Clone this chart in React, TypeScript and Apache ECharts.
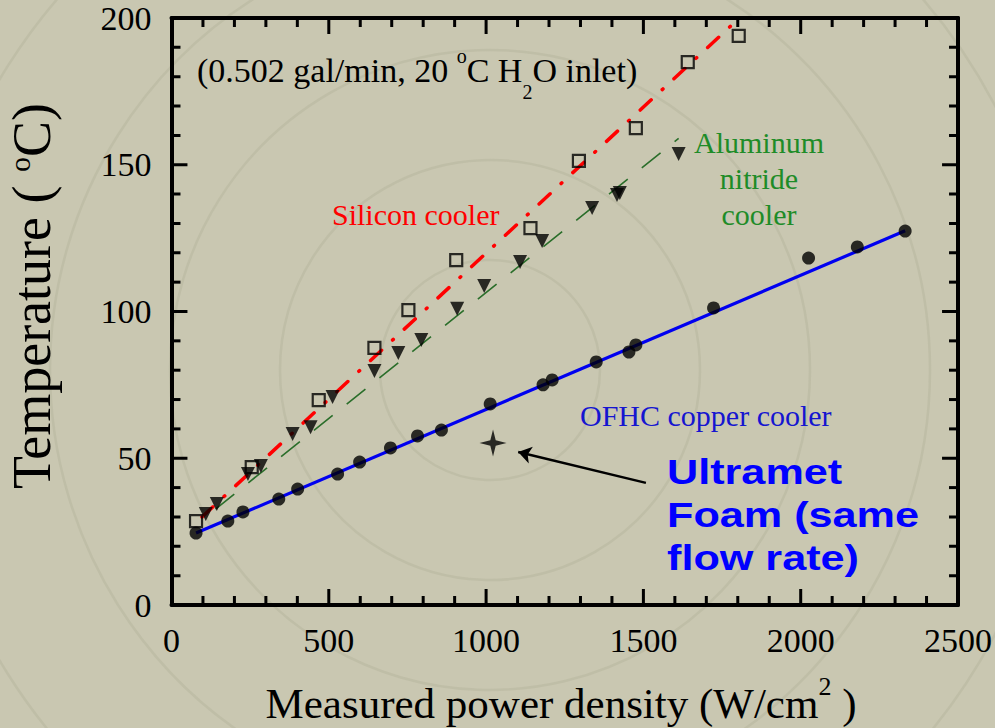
import React, { useEffect, useRef } from "react";
import * as echarts from "echarts";

// ---- data ----
const xTicks = [0, 500, 1000, 1500, 2000, 2500];
const yTicks = [0, 50, 100, 150, 200];
const xMinorStep = 100;
const yMinorStep = 10;

const copperX = [78, 179, 227, 341, 401, 528, 598, 696, 782, 858, 1013, 1181, 1210, 1350, 1454, 1476, 1723, 2025, 2180, 2332];
const copperY = [24.5, 28.6, 31.7, 36.1, 39.5, 44.6, 48.7, 53.5, 57.6, 59.6, 68.5, 75.0, 76.7, 82.8, 86.2, 88.6, 101.2, 118.2, 122.0, 127.4];

const siliconX = [78, 255, 468, 645, 753, 905, 1141, 1295, 1476, 1641, 1803];
const siliconY = [28.6, 47.0, 69.8, 87.6, 100.5, 117.5, 128.4, 151.3, 162.5, 185.0, 193.9];

const alnX = [109, 144, 243, 284, 385, 442, 512, 645, 721, 794, 908, 994, 1108, 1178, 1337, 1416, 1425, 1612];
const alnY = [31.0, 34.4, 44.6, 47.4, 58.3, 60.6, 70.9, 79.7, 85.9, 90.3, 100.9, 108.7, 116.9, 124.0, 135.3, 139.7, 140.4, 153.7];

// fitted lines (end points)
const copperFitX = [78, 2332];
const copperFitY = [24.5, 127.5];
const siliconFitX = [97, 1805];
const siliconFitY = [30, 200];
const alnFitX = [140, 1612];
const alnFitY = [32.7, 159];

// Ultramet foam point and arrow
const foamX = [1022];
const foamY = [55.2];
const arrowFrom = [1508, 41.6];
const arrowTo = [1102, 52.1];

const pairs = (xs: number[], ys: number[]) => xs.map((x, i) => [x, ys[i]]);

const SERIF = "'Liberation Serif', 'Times New Roman', serif";
const SANS = "'Liberation Sans', Arial, sans-serif";

const W = 995;
const H = 728;
const GRID = { left: 171.5, right: 34.5, top: 18, bottom: 123 };

function makeAxis(position: string, min: number, max: number, interval: number, showLabel: boolean, margin: number) {
  return {
    type: "value",
    position,
    min,
    max,
    interval,
    axisLine: { show: true, onZero: false, lineStyle: { color: "#000", width: 4 } },
    axisTick: { show: false },
    minorTick: { show: false },
    splitLine: { show: false },
    axisLabel: showLabel
      ? { show: true, color: "#000", fontFamily: SERIF, fontSize: 34, margin, formatter: (v: number) => String(v) }
      : { show: false },
  };
}

export default function App() {
  const ref = useRef<HTMLDivElement>(null);

  useEffect(() => {
    if (!ref.current) return;
    const chart = echarts.init(ref.current, undefined, { renderer: "svg" });

    const xMin = xTicks[0];
    const xMax = xTicks[xTicks.length - 1];
    const yMin = yTicks[0];
    const yMax = yTicks[yTicks.length - 1];
    const xMajor = xTicks[1] - xTicks[0];
    const yMajor = yTicks[1] - yTicks[0];

    // tick lengths in pixels, turned into axis units through the grid size
    const gridW = W - GRID.left - GRID.right;
    const gridH = H - GRID.top - GRID.bottom;
    const xPerPx = (xMax - xMin) / gridW;
    const yPerPx = (yMax - yMin) / gridH;
    const MAJ = 16;
    const MIN = 9;

    // every tick is a tiny two-point line series (same mechanism as the fit lines)
    const tickSeries: any[] = [];
    const addTick = (a: number[], b: number[]) => {
      tickSeries.push({
        type: "line",
        silent: true,
        data: [a, b],
        symbol: "none",
        showSymbol: false,
        lineStyle: { color: "#000", width: 3, type: "solid" },
        z: 5,
      });
    };
    for (let v = xMin + xMinorStep; v < xMax; v += xMinorStep) {
      const len = (v % xMajor === 0 ? MAJ : MIN) * yPerPx;
      addTick([v, yMin], [v, yMin + len]);
      addTick([v, yMax], [v, yMax - len]);
    }
    for (let v = yMin + yMinorStep; v < yMax; v += yMinorStep) {
      const len = (v % yMajor === 0 ? MAJ : MIN) * xPerPx;
      addTick([xMin, v], [xMin + len, v]);
      addTick([xMax, v], [xMax - len, v]);
    }

    const decor: any[] = [];
    [110, 210, 320, 440, 570, 720].forEach((r) => {
      decor.push({
        type: "circle",
        z: -10,
        silent: true,
        shape: { cx: 490, cy: 370, r },
        style: { fill: "none", stroke: "rgba(150,148,122,0.18)", lineWidth: 2.5 },
      });
    });

    const option: any = {
      animation: false,
      backgroundColor: "#c9c7b1",
      grid: { ...GRID },
      xAxis: [
        makeAxis("bottom", xMin, xMax, xMajor, true, 18),
        makeAxis("top", xMin, xMax, xMajor, false, 8),
      ],
      yAxis: [
        makeAxis("left", yMin, yMax, yMajor, true, 20),
        makeAxis("right", yMin, yMax, yMajor, false, 8),
      ],
      series: [
        ...tickSeries,
        {
          name: "copper fit",
          type: "line",
          data: pairs(copperFitX, copperFitY),
          showSymbol: false,
          symbol: "none",
          lineStyle: { color: "#0000f0", width: 3.2 },
          z: 2,
        },
        {
          name: "silicon fit",
          type: "line",
          data: pairs(siliconFitX, siliconFitY),
          showSymbol: false,
          symbol: "none",
          lineStyle: { color: "#ff0000", width: 3.5, type: [15, 15, 1, 15], cap: "round" },
          z: 2,
        },
        {
          name: "aln fit",
          type: "line",
          data: pairs(alnFitX, alnFitY),
          showSymbol: false,
          symbol: "none",
          lineStyle: { color: "#2a6e2a", width: 1.6, type: [24, 18] },
          z: 2,
        },
        {
          name: "OFHC copper",
          type: "scatter",
          data: pairs(copperX, copperY),
          symbol: "circle",
          symbolSize: 13,
          itemStyle: { color: "#000" },
          z: 4,
        },
        {
          name: "Silicon",
          type: "scatter",
          data: pairs(siliconX, siliconY),
          symbol: "rect",
          symbolSize: 12,
          itemStyle: { color: "rgba(0,0,0,0)", borderColor: "#000", borderWidth: 2.2 },
          z: 4,
        },
        {
          name: "AlN",
          type: "scatter",
          data: pairs(alnX, alnY),
          symbol: "triangle",
          symbolRotate: 180,
          symbolSize: 14,
          itemStyle: { color: "#000" },
          z: 4,
        },
        {
          name: "Ultramet foam",
          type: "scatter",
          data: pairs(foamX, foamY),
          symbol: "path://M0,-13 L2.6,-2.6 L13,0 L2.6,2.6 L0,13 L-2.6,2.6 L-13,0 L-2.6,-2.6 Z",
          symbolSize: [27, 27],
          itemStyle: { color: "#000" },
          z: 4,
          markLine: {
            silent: true,
            symbol: ["none", "arrow"],
            symbolSize: 13,
            label: { show: false },
            lineStyle: { color: "#000", width: 2.5, type: "solid" },
            data: [[{ coord: arrowFrom }, { coord: arrowTo }]],
          },
        },
      ],
      graphic: [
        ...decor,
        {
          type: "text",
          x: 197,
          y: 70,
          style: {
            text: "{m|(0.502 gal/min, 20 }{sup|o}{m|C H}{sub|2}{m|O inlet)}",
            fill: "#000",
            align: "left",
            verticalAlign: "middle",
            rich: {
              m: { fontFamily: SERIF, fontSize: 34, lineHeight: 64, verticalAlign: "middle", fill: "#000" },
              sup: { fontFamily: SERIF, fontSize: 20, lineHeight: 40, verticalAlign: "top", padding: [8, 0, 0, 0], fill: "#000" },
              sub: { fontFamily: SERIF, fontSize: 20, lineHeight: 20, verticalAlign: "bottom", fill: "#000" },
            },
          },
        },
        {
          type: "text",
          x: 332,
          y: 214,
          style: { text: "Silicon cooler", fill: "#ff0000", fontFamily: SERIF, fontSize: 30, align: "left", verticalAlign: "middle" },
        },
        {
          type: "text",
          x: 759,
          y: 178,
          style: { text: "Aluminum\nnitride\ncooler", fill: "#1e8c28", fontFamily: SERIF, fontSize: 30, lineHeight: 36, align: "center", verticalAlign: "middle" },
        },
        {
          type: "text",
          x: 580,
          y: 415,
          style: { text: "OFHC copper cooler", fill: "#1515d0", fontFamily: SERIF, fontSize: 30, align: "left", verticalAlign: "middle" },
        },
        {
          type: "text",
          x: 667,
          y: 514,
          scaleX: 1.2,
          style: { text: "Ultramet\nFoam (same\nflow rate)", fill: "#0000ff", fontFamily: SANS, fontWeight: "bold", fontSize: 36, lineHeight: 43, align: "left", verticalAlign: "middle" },
        },
        {
          type: "text",
          x: 561,
          y: 703,
          style: {
            text: "{m|Measured power density (W/cm}{sup|2}{m| )}",
            fill: "#000",
            align: "center",
            verticalAlign: "middle",
            rich: {
              m: { fontFamily: SERIF, fontSize: 43, lineHeight: 60, verticalAlign: "middle", fill: "#000" },
              sup: { fontFamily: SERIF, fontSize: 26, lineHeight: 20, verticalAlign: "top", fill: "#000" },
            },
          },
        },
        {
          type: "text",
          x: 32,
          y: 296,
          rotation: Math.PI / 2,
          style: {
            text: "{m|Temperature ( }{sup|o}{m|C)}",
            fill: "#000",
            align: "center",
            verticalAlign: "middle",
            rich: {
              m: { fontFamily: SERIF, fontSize: 54, lineHeight: 56, verticalAlign: "middle", fill: "#000" },
              sup: { fontFamily: SERIF, fontSize: 30, lineHeight: 40, verticalAlign: "top", fill: "#000" },
            },
          },
        },
      ],
    };

    chart.setOption(option);
    return () => chart.dispose();
  }, []);

  return (
    <div ref={ref} style={{ position: "absolute", left: 0, top: 0, width: W, height: H }} />
  );
}
